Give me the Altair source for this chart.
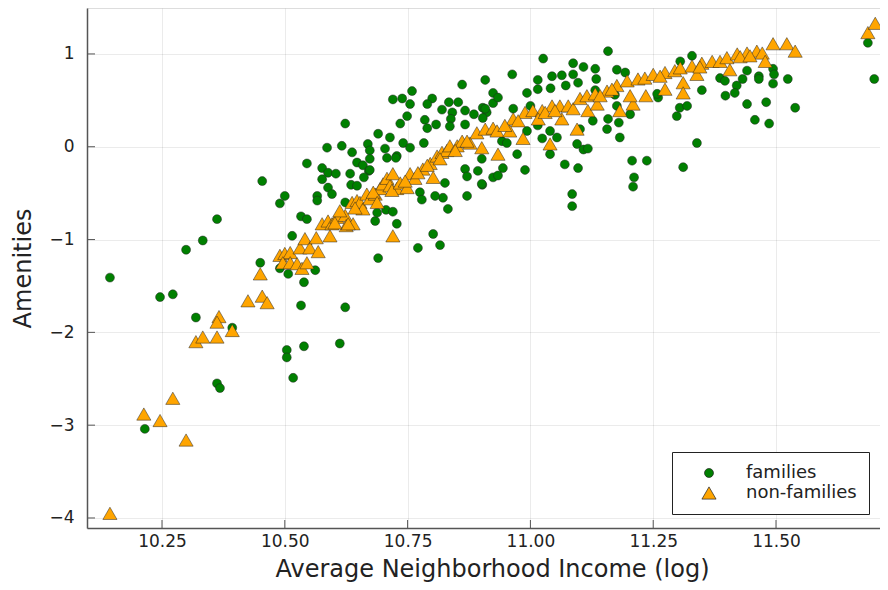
import altair as alt
import pandas as pd

# ---- data ----
fam_x = [10.144, 10.246, 10.272, 10.299, 10.333, 10.362, 10.319, 10.362, 10.368, 10.215,
         10.393, 10.454, 10.450, 10.490, 10.507, 10.539, 10.562, 10.533, 10.623, 10.515,
         10.690, 10.504, 10.504, 10.539, 10.612, 10.517, 10.623, 10.586, 10.616, 10.637,
         10.669, 10.673, 10.545, 10.576, 10.588, 10.604, 10.633, 10.647, 10.659, 10.671,
         10.576, 10.588, 10.596, 10.635, 10.647, 10.661, 10.500, 10.490, 10.566, 10.566,
         10.533, 10.545, 10.684, 10.690, 10.704, 10.728, 10.688, 10.706, 10.720, 10.728,
         10.861, 10.908, 10.759, 10.720, 10.739, 10.755, 10.800, 10.790, 10.834, 10.853,
         10.820, 10.841, 10.867, 10.885, 10.903, 10.911, 10.924, 10.924, 10.749, 10.735,
         10.785, 10.790, 10.808, 10.838, 10.836, 10.867, 10.714, 10.741, 10.755, 10.783,
         10.708, 10.726, 10.673, 10.673, 10.867, 10.871, 10.893, 10.924, 10.902, 10.826,
         10.775, 10.779, 10.822, 10.871, 10.832, 10.802, 10.816, 10.771, 10.623, 11.158,
         11.026, 11.087, 11.108, 11.132, 11.176, 11.193, 10.963, 11.015, 11.044, 11.064,
         11.087, 11.097, 11.134, 11.072, 11.041, 10.993, 10.934, 11.132, 11.172, 10.908,
         10.903, 10.965, 11.000, 11.176, 11.158, 11.127, 11.156, 11.182, 11.101, 10.993,
         11.015, 11.040, 11.024, 11.054, 11.095, 11.108, 11.117, 10.942, 10.952, 11.040,
         10.973, 10.901, 10.944, 10.934, 10.989, 11.070, 11.097, 11.207, 11.237, 11.211,
         11.209, 11.085, 11.085, 10.901, 11.180, 11.311, 11.298, 11.304, 11.319, 11.260,
         11.329, 11.305, 11.386, 11.396, 11.420, 11.432, 11.441, 11.465, 11.465, 11.494,
         11.496, 11.494, 11.524, 11.416, 11.397, 11.349, 11.441, 11.457, 11.480, 11.486,
         11.539, 11.339, 11.203, 11.687, 11.700, 11.258, 11.015, 10.806]
fam_y = [-1.41, -1.62, -1.59, -1.11, -1.01, -0.78, -1.84, -2.55, -2.60, -3.04,
         -1.95, -0.37, -1.25, -1.31, -1.37, -1.46, -1.33, -1.71, -1.73, -0.96,
         -1.20, -2.19, -2.27, -2.15, -2.12, -2.49, 0.25, -0.01, 0.01, -0.06,
         0.03, -0.04, -0.18, -0.23, -0.28, -0.29, -0.29, -0.17, -0.20, -0.26,
         -0.35, -0.44, -0.51, -0.41, -0.42, -0.33, -0.53, -0.61, -0.53, -0.58,
         -0.75, -0.78, -0.80, 0.14, -0.02, -0.10, -0.71, -0.68, -0.70, -0.83,
         0.67, 0.72, 0.60, 0.51, 0.52, 0.46, 0.52, 0.46, 0.48, 0.48,
         0.40, 0.37, 0.39, 0.35, 0.42, 0.37, 0.58, 0.47, 0.33, 0.25,
         0.29, 0.20, 0.24, 0.30, 0.22, 0.24, 0.10, 0.04, -0.01, 0.04,
         -0.12, -0.12, -0.13, -0.25, -0.24, -0.32, -0.26, -0.33, -0.41, -0.39,
         -0.49, -0.57, -0.55, -0.53, -0.67, -0.94, -1.06, -1.09, -0.60, 1.03,
         0.95, 0.90, 0.86, 0.84, 0.83, 0.80, 0.78, 0.72, 0.76, 0.77,
         0.78, 0.69, 0.73, 0.66, 0.63, 0.58, 0.53, 0.61, 0.56, 0.41,
         0.31, 0.41, 0.44, 0.44, 0.30, 0.28, 0.19, 0.10, 0.19, 0.17,
         0.23, 0.17, 0.09, 0.10, 0.03, -0.03, -0.02, 0.06, 0.04, -0.08,
         -0.08, -0.13, -0.23, -0.31, -0.25, -0.19, -0.23, -0.15, -0.15, -0.33,
         -0.43, -0.51, -0.64, -0.40, 0.26, -0.22, 0.33, 0.42, 0.44, 0.53,
         0.98, 0.92, 0.74, 0.71, 0.66, 0.73, 0.82, 0.76, 0.73, 0.84,
         0.78, 0.68, 0.73, 0.58, 0.55, 0.61, 0.46, 0.29, 0.48, 0.25,
         0.42, 0.04, 0.35, 1.12, 0.73, 0.57, 0.62, -0.53]

non_x = [10.144, 10.213, 10.246, 10.272, 10.299, 10.319, 10.333, 10.362, 10.366, 10.362,
         10.393, 10.425, 10.454, 10.464, 10.450, 10.490, 10.500, 10.511, 10.496, 10.511,
         10.525, 10.535, 10.545, 10.531, 10.541, 10.551, 10.568, 10.564, 10.576, 10.588,
         10.592, 10.596, 10.606, 10.623, 10.625, 10.637, 10.612, 10.639, 10.647, 10.653,
         10.667, 10.659, 10.673, 10.684, 10.694, 10.700, 10.708, 10.714, 10.720, 10.728,
         10.720, 10.602, 10.629, 10.643, 10.680, 10.688, 10.718, 10.735, 10.749, 10.755,
         10.765, 10.781, 10.796, 10.802, 10.810, 10.820, 10.830, 10.836, 10.851, 10.861,
         10.877, 10.891, 10.901, 10.908, 10.924, 10.932, 10.934, 10.958, 10.965, 10.985,
         10.989, 11.005, 11.024, 11.016, 11.040, 11.044, 11.064, 11.060, 11.077, 11.087,
         11.095, 11.101, 11.117, 11.115, 11.132, 11.136, 11.156, 11.176, 11.182, 11.197,
         11.209, 11.203, 11.219, 11.233, 11.235, 11.250, 11.274, 11.274, 11.294, 11.305,
         11.311, 11.311, 11.329, 11.339, 11.349, 11.370, 11.386, 11.406, 11.400, 11.421,
         11.441, 11.461, 11.472, 11.478, 11.494, 11.522, 11.539, 11.687, 11.702,
         10.745, 10.771, 10.790, 10.816, 10.847, 10.871, 10.948, 10.975, 11.030, 11.050,
         11.142, 11.166, 11.264, 11.345, 11.427, 11.447]
non_y = [-3.95, -2.88, -2.95, -2.71, -3.16, -2.10, -2.05, -2.05, -1.83, -1.89,
         -1.98, -1.66, -1.61, -1.68, -1.37, -1.17, -1.15, -1.14, -1.25, -1.25,
         -1.26, -1.31, -1.25, -1.09, -0.99, -1.09, -1.13, -0.98, -0.83, -0.80,
         -0.96, -0.83, -0.76, -0.74, -0.85, -0.60, -0.69, -0.83, -0.58, -0.60,
         -0.51, -0.67, -0.56, -0.51, -0.45, -0.40, -0.34, -0.42, -0.29, -0.45,
         -0.96, -0.82, -0.83, -0.66, -0.49, -0.60, -0.47, -0.39, -0.44, -0.29,
         -0.34, -0.24, -0.18, -0.33, -0.10, -0.06, -0.04, 0.01, 0.01, 0.06,
         0.04, 0.15, -0.01, 0.19, 0.20, 0.17, -0.08, 0.17, 0.30, 0.09,
         0.37, 0.39, 0.39, 0.30, 0.03, 0.44, 0.30, 0.44, 0.44, 0.41,
         0.19, 0.52, 0.39, 0.55, 0.57, 0.46, 0.60, 0.66, 0.39, 0.71,
         0.46, 0.55, 0.73, 0.74, 0.55, 0.78, 0.62, 0.80, 0.82, 0.85,
         0.69, 0.58, 0.87, 0.78, 0.90, 0.92, 0.92, 0.83, 0.96, 1.00,
         1.01, 1.03, 1.01, 0.92, 1.11, 1.11, 1.03, 1.23, 1.33,
         -0.37, -0.28, -0.20, -0.13, -0.04, 0.06, 0.23, 0.28, 0.37, 0.39,
         0.55, 0.62, 0.76, 0.86, 0.97, 0.98]

groups = ["families", "non-families"]
x_ticks = [10.25, 10.50, 10.75, 11.00, 11.25, 11.50]
y_ticks = [-4, -3, -2, -1, 0, 1]
x_domain = [10.0973, 11.7117]
y_domain = [-4.108, 1.495]

df = pd.concat([
    pd.DataFrame({"x": fam_x, "y": fam_y, "group": groups[0]}),
    pd.DataFrame({"x": non_x, "y": non_y, "group": groups[1]}),
], ignore_index=True)

font = "DejaVu Sans"
txt = "#222222"

xscale = alt.Scale(domain=x_domain, nice=False, zero=False)
yscale = alt.Scale(domain=y_domain, nice=False, zero=False)

points = alt.Chart(df).mark_point(
    filled=True, opacity=1, stroke="#222222", strokeWidth=0.7, strokeOpacity=0.7
).encode(
    x=alt.X("x:Q", scale=xscale,
            axis=alt.Axis(title="Average Neighborhood Income (log)", values=x_ticks,
                          format=".2f", grid=True, gridColor="#000000", gridOpacity=0.08,
                          ticks=False, domainColor="#555555", domainWidth=1.5,
                          labelFont=font, labelFontSize=17, labelColor=txt,
                          labelPadding=5, titleFont=font, titleFontSize=24,
                          titleFontWeight="normal", titleColor=txt,
                          titleX=405, titleY=48, titleBaseline="alphabetic")),
    y=alt.Y("y:Q", scale=yscale,
            axis=alt.Axis(title="Amenities", values=y_ticks, format="d",
                          grid=True, gridColor="#000000", gridOpacity=0.08,
                          ticks=False, domainColor="#555555", domainWidth=1.5,
                          labelFont=font, labelFontSize=17, labelColor=txt,
                          labelPadding=13, titleFont=font, titleFontSize=24,
                          titleFontWeight="normal", titleColor=txt, titlePadding=13)),
    color=alt.Color("group:N", scale=alt.Scale(domain=groups, range=["#008000", "#FFA500"]),
                    legend=alt.Legend(title=None, orient="none", legendX=585, legendY=444,
                                      strokeColor="#222222", fillColor="white", padding=12,
                                      labelFont=font, labelFontSize=18, labelColor=txt,
                                      symbolSize=190, symbolStrokeWidth=0.7,
                                      symbolOffset=16, labelOffset=28, rowPadding=2,
                                      symbolStrokeColor="#222222")),
    shape=alt.Shape("group:N", scale=alt.Scale(domain=groups, range=["circle", "triangle-up"])),
    size=alt.Size("group:N", scale=alt.Scale(domain=groups, range=[80, 200]), legend=None),
)

xt = pd.DataFrame({"v": x_ticks})
yt = pd.DataFrame({"v": y_ticks})
xtick_rules = alt.Chart(xt).mark_rule(color="#555555", strokeWidth=1).encode(
    x=alt.X("v:Q", scale=xscale), y=alt.value(520), y2=alt.value(512))
ytick_rules = alt.Chart(yt).mark_rule(color="#555555", strokeWidth=1).encode(
    y=alt.Y("v:Q", scale=yscale), x=alt.value(0), x2=alt.value(8))

chart = alt.layer(points, xtick_rules, ytick_rules).properties(
    width=793, height=520,
    autosize=alt.AutoSizeParams(type="none"),
    padding={"left": 79, "top": 0, "right": 0, "bottom": 54},
).configure_view(stroke=None).configure(background="white")

chart.save("out.html", embed_options={"renderer": "svg", "actions": False})
